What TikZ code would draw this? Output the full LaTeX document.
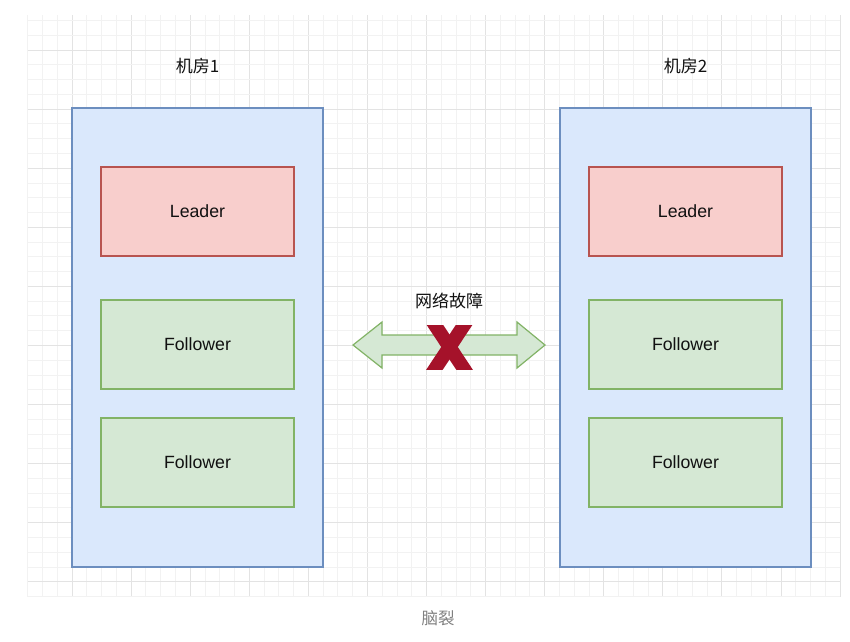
\documentclass[tikz,border=0pt]{standalone}
\usepackage{fontspec}
\setmainfont{Liberation Sans}
\newfontfamily\cjk{Noto Sans CJK SC}
\definecolor{roomfill}{HTML}{DAE8FC}
\definecolor{roomline}{HTML}{6C8EBF}
\definecolor{leadfill}{HTML}{F8CECC}
\definecolor{leadline}{HTML}{B85450}
\definecolor{follfill}{HTML}{D5E8D4}
\definecolor{follline}{HTML}{82B366}
\definecolor{xred}{HTML}{A5122A}
\definecolor{textdark}{HTML}{111111}
\tikzset{
  room/.style={draw=roomline, fill=roomfill, line width=1.2pt, minimum width=251pt, minimum height=459pt},
  leader/.style={draw=leadline, fill=leadfill, line width=1.2pt, minimum width=193pt, minimum height=89pt, font=\fontsize{17.7}{20}\selectfont, text=textdark},
  follower/.style={draw=follline, fill=follfill, line width=1.2pt, minimum width=193pt, minimum height=89pt, font=\fontsize{17.7}{20}\selectfont, text=textdark},
  roomlabel/.style={font=\cjk\fontsize{17}{20}\selectfont, text=textdark},
  minorline/.style={draw=black!5, line width=0.8pt},
  majorline/.style={draw=black!11, line width=0.9pt}
}
\begin{document}
\begin{tikzpicture}[x=1pt, y=-1pt]
    \useasboundingbox[fill=white] (0,0) rectangle (850,641);
    % Grid
    \foreach \i in {0,...,55} {
        \pgfmathtruncatemacro{\m}{mod(\i,4)}
        \ifnum\m=3 \draw[majorline] ({27.7+\i*14.77},15) -- ({27.7+\i*14.77},597);
        \else \draw[minorline] ({27.7+\i*14.77},15) -- ({27.7+\i*14.77},597); \fi
    }
    \foreach \j in {0,...,39} {
        \pgfmathtruncatemacro{\m}{mod(\j,4)}
        \ifnum\m=2 \draw[majorline] (27.7,{20.46+\j*14.77}) -- (840,{20.46+\j*14.77});
        \else \draw[minorline] (27.7,{20.46+\j*14.77}) -- (840,{20.46+\j*14.77}); \fi
    }
    % Room 1
    \node[room] (roomA) at (197.5,337.5) {};
    \node[roomlabel] (labelA) at (197.5,66) {机房1};
    \node[leader] (leadA) at (197.5,211.5) {Leader};
    \node[follower] (followA1) at (197.5,344.5) {Follower};
    \node[follower] (followA2) at (197.5,462.5) {Follower};
    % Room 2
    \node[room] (roomB) at (685.5,337.5) {};
    \node[roomlabel] (labelB) at (685.5,66) {机房2};
    \node[leader] (leadB) at (685.5,211.5) {Leader};
    \node[follower] (followB1) at (685.5,344.5) {Follower};
    \node[follower] (followB2) at (685.5,462.5) {Follower};
    % Broken link
    \node[roomlabel] (fault) at (449,301) {网络故障};
    \draw[follline, fill=follfill, line width=1.2pt] (353,345) -- (382,322) -- (382,335) -- (517,335) -- (517,322)
        -- (545,345) -- (517,368) -- (517,355) -- (382,355) -- (382,368) -- cycle;
    \begin{scope}
        \clip (420,325) rectangle (480,369);
        \draw[xred, line width=13.8pt] (429,316) -- (470,378);
        \draw[xred, line width=13.8pt] (470,316) -- (429,378);
    \end{scope}
    % Caption
    \node[font=\cjk\fontsize{16.5}{20}\selectfont, text=black!50] (caption) at (438,618) {脑裂};
\end{tikzpicture}
\end{document}
